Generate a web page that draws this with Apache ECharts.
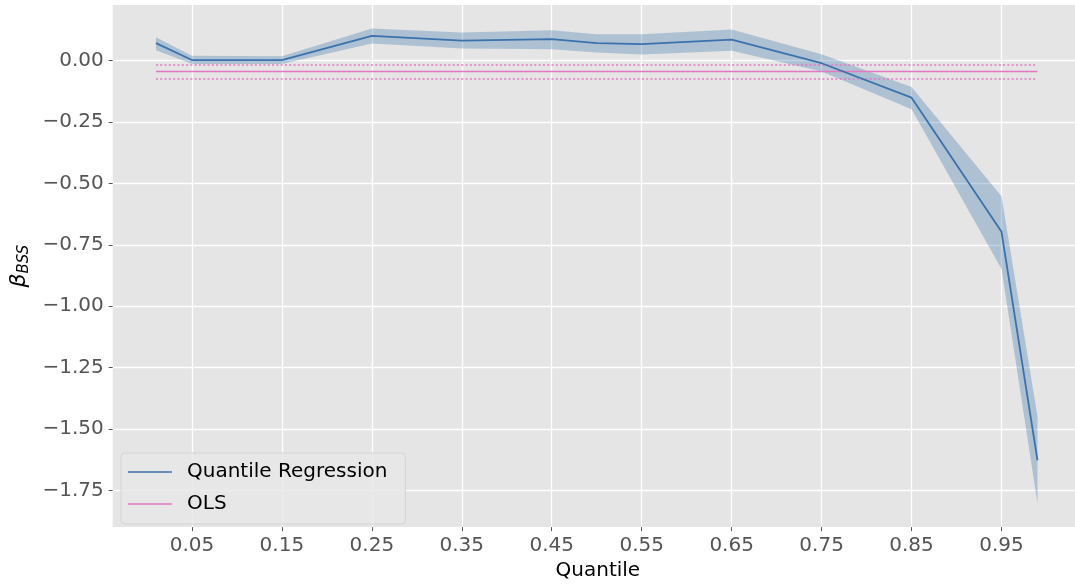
<!DOCTYPE html>
<html>
<head>
<meta charset="utf-8">
<script src="https://cdn.jsdelivr.net/npm/echarts@6/dist/echarts.min.js"></script>
<style>html,body{margin:0;padding:0;background:#fff;}#c{width:1075px;height:586px;}</style>
</head>
<body>
<div id="c"></div>
<script>
const quantiles = [0.01, 0.05, 0.15, 0.25, 0.35, 0.45, 0.5, 0.55, 0.65, 0.75, 0.85, 0.95, 0.99];
const qrCoef  = [0.071, 0.002, 0.002, 0.100, 0.081, 0.087, 0.071, 0.067, 0.085, -0.011, -0.151, -0.697, -1.627];
const qrUpper = [0.095, 0.019, 0.017, 0.130, 0.114, 0.123, 0.107, 0.107, 0.126, 0.026, -0.108, -0.552, -1.448];
const qrLower = [0.042, -0.014, -0.014, 0.069, 0.049, 0.046, 0.033, 0.025, 0.040, -0.045, -0.198, -0.848, -1.802];
const olsCoef = -0.045;
const olsUpper = -0.018;
const olsLower = -0.075;
const xTicks = [0.05, 0.15, 0.25, 0.35, 0.45, 0.55, 0.65, 0.75, 0.85, 0.95];
const yTicks = [0, -0.25, -0.5, -0.75, -1.0, -1.25, -1.5, -1.75];

const FONT = 'DejaVu Sans';
const chart = echarts.init(document.getElementById('c'), null, {renderer: 'canvas'});

const pair = (xs, ys) => xs.map((x, i) => [x, ys[i]]);
const olsX = [quantiles[0], quantiles[quantiles.length - 1]];
const flat = v => olsX.map(x => [x, v]);
const fmt = v => (v < 0 ? '\u2212' : '') + Math.abs(v).toFixed(2);

const gridLines = [
  ...xTicks.map(v => ({xAxis: v})),
  ...yTicks.map(v => ({yAxis: v}))
];

// band data: [quantile, lower, upper]
const bandData = quantiles.map((q, i) => [q, qrLower[i], qrUpper[i]]);

chart.setOption({
  animation: false,
  backgroundColor: '#ffffff',
  grid: {left: 110, right: 0, top: 5, bottom: 54, show: true, backgroundColor: '#E5E5E5', borderWidth: 0},
  xAxis: {
    type: 'value', min: -0.0381, max: 1.0317,
    name: 'Quantile', nameLocation: 'middle', nameGap: 30,
    nameTextStyle: {fontFamily: FONT, fontSize: 20, color: '#000', padding: [0, 0, 0, 8]},
    axisLine: {show: false, onZero: false},
    axisTick: {show: true, customValues: xTicks, length: 4, lineStyle: {color: '#555', width: 1}},
    axisLabel: {customValues: xTicks, formatter: fmt, fontFamily: FONT, fontSize: 20, color: '#555', margin: 9},
    splitLine: {show: false}
  },
  yAxis: {
    type: 'value', min: -1.899, max: 0.226,
    name: '{b|\u03B2}{s|BSS}', nameLocation: 'middle', nameRotate: 90, nameGap: 72,
    nameTextStyle: {
      rich: {
        b: {fontFamily: FONT, fontSize: 22, fontStyle: 'italic', color: '#000'},
        s: {fontFamily: FONT, fontSize: 15, fontStyle: 'italic', color: '#000', padding: [10, 0, 0, 0]}
      }
    },
    axisLine: {show: false, onZero: false},
    axisTick: {show: true, customValues: yTicks, length: 4, lineStyle: {color: '#555', width: 1}},
    axisLabel: {customValues: yTicks, formatter: fmt, fontFamily: FONT, fontSize: 20, color: '#555', margin: 9},
    splitLine: {show: false}
  },
  legend: {
    orient: 'vertical', left: 121, top: 453,
    data: [{name: 'Quantile Regression', icon: 'rect'}, {name: 'OLS', icon: 'rect'}],
    backgroundColor: 'rgba(232,232,232,0.85)', borderColor: '#d4d4d4', borderWidth: 1, borderRadius: 4,
    padding: [9, 18, 10, 7], itemGap: 12, itemWidth: 44, itemHeight: 1.6,
    textStyle: {fontFamily: FONT, fontSize: 20, color: '#000', padding: [0, 0, 0, 10]}
  },
  series: [
    {
      name: 'gridlines', type: 'line', data: [], silent: true, z: 0,
      markLine: {silent: true, symbol: 'none', z: 0, label: {show: false}, animation: false,
        lineStyle: {color: '#ffffff', width: 1.3, type: 'solid'}, data: gridLines}
    },
    {
      name: 'band', type: 'custom', data: bandData, silent: true, z: 1,
      encode: {x: 0, y: [1, 2]},
      renderItem: function (params, api) {
        if (params.dataIndex !== 0) return null;
        const upper = [], lower = [];
        for (let i = 0; i < bandData.length; i++) {
          upper.push(api.coord([bandData[i][0], bandData[i][2]]));
          lower.push(api.coord([bandData[i][0], bandData[i][1]]));
        }
        const pts = upper.concat(lower.reverse());
        return {
          type: 'polygon',
          shape: {points: pts},
          style: {fill: 'rgba(59,117,175,0.32)', stroke: null}
        };
      }
    },
    {
      name: 'OLS', type: 'line', data: flat(olsCoef), symbol: 'none', z: 3,
      lineStyle: {color: '#e377c2', width: 1.5}, itemStyle: {color: '#e377c2'}
    },
    {
      name: 'olsUpper', type: 'line', data: flat(olsUpper), symbol: 'none', z: 3,
      lineStyle: {color: '#e377c2', width: 1.5, type: [2, 2.3]}
    },
    {
      name: 'olsLower', type: 'line', data: flat(olsLower), symbol: 'none', z: 3,
      lineStyle: {color: '#e377c2', width: 1.5, type: [2, 2.3]}
    },
    {
      name: 'Quantile Regression', type: 'line', data: pair(quantiles, qrCoef), symbol: 'none', z: 4,
      lineStyle: {color: '#3a72ad', width: 1.8}, itemStyle: {color: '#3a72ad'}
    }
  ]
});
</script>
</body>
</html>
